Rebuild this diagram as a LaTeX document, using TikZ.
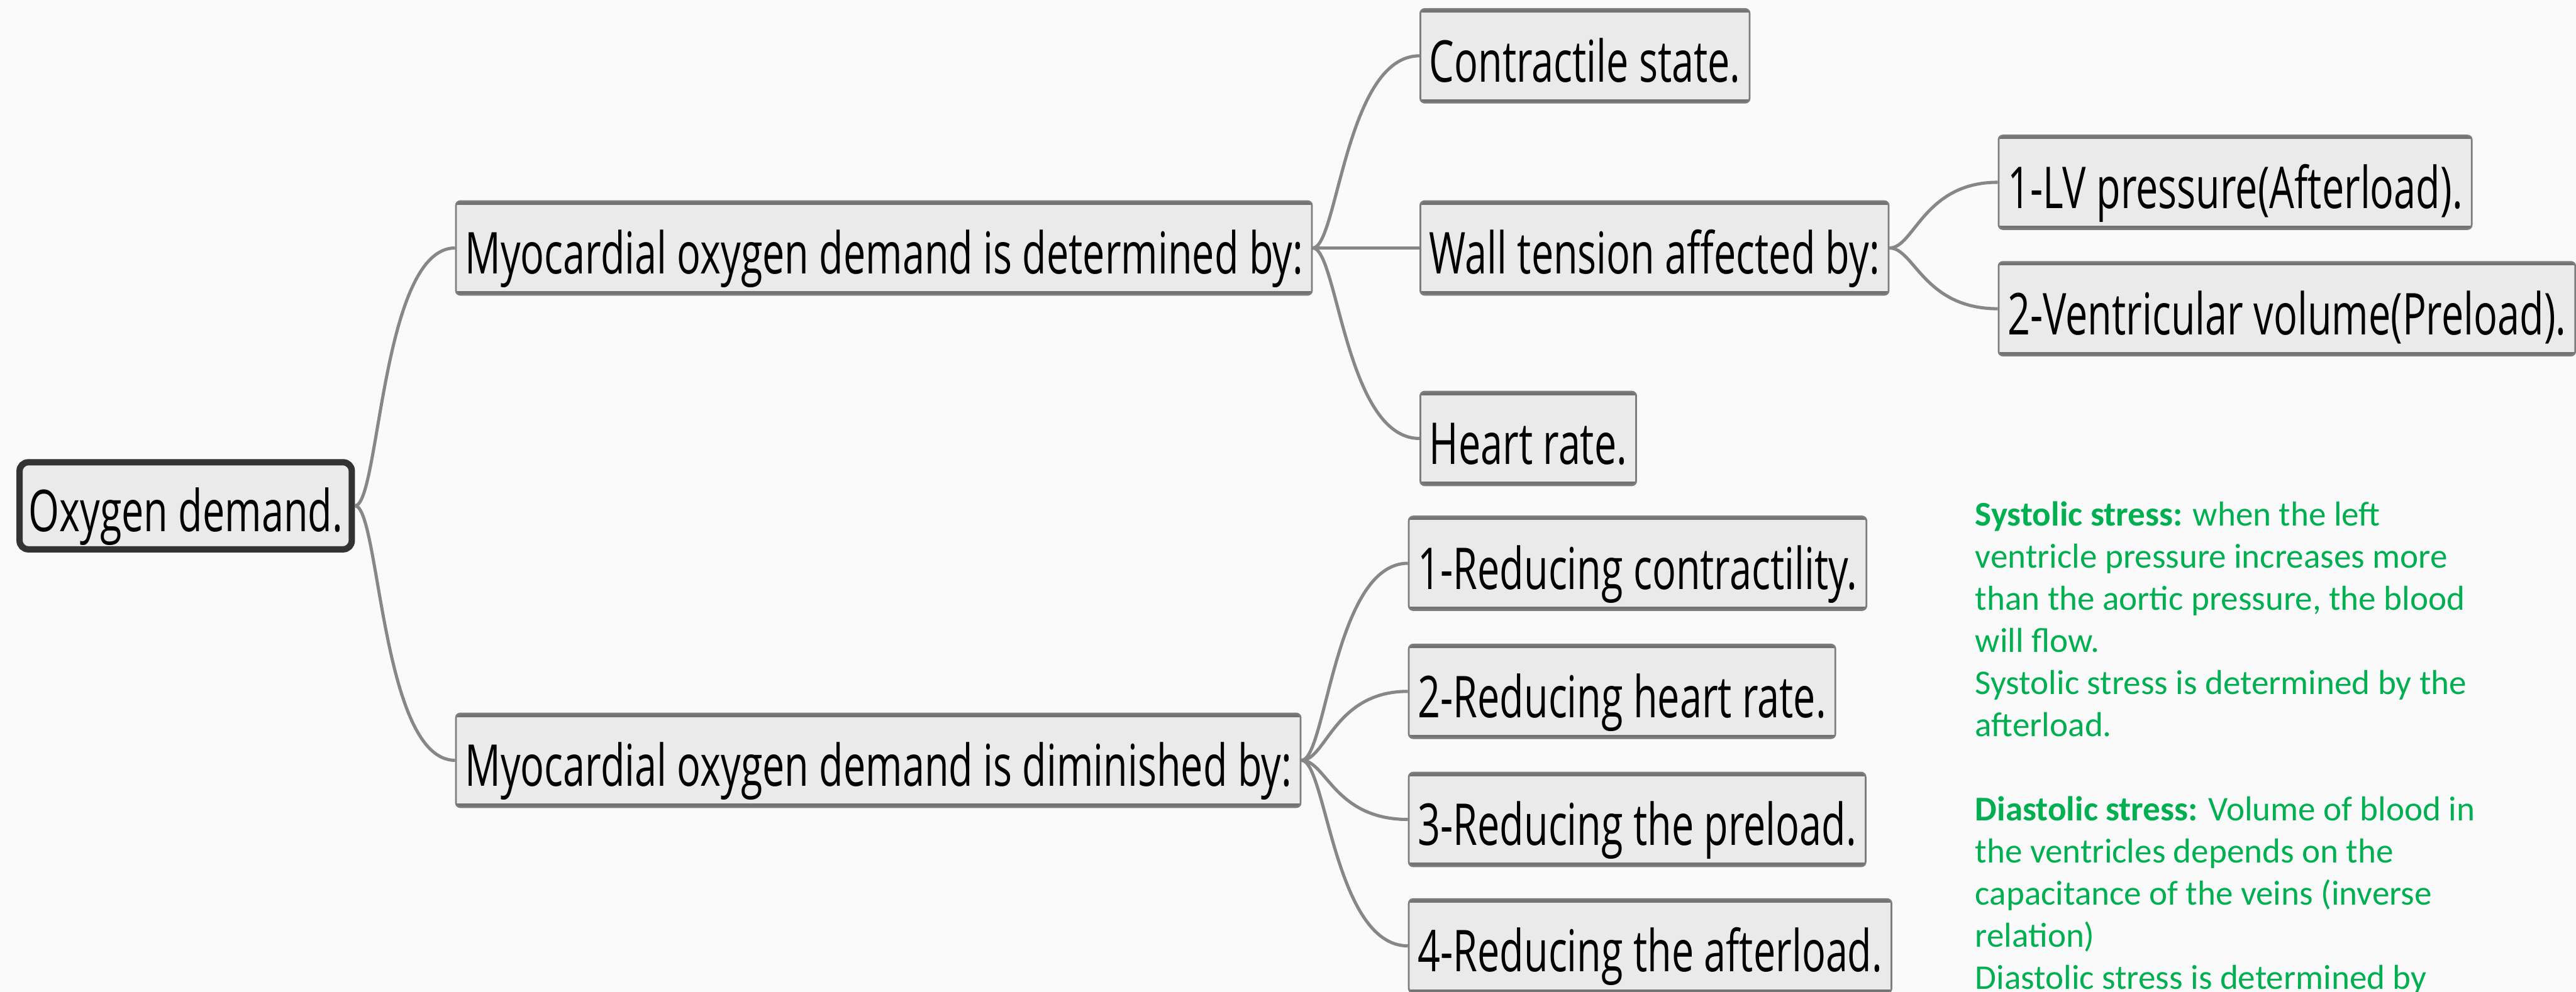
\documentclass[tikz,border=0pt]{standalone}
\usepackage{fontspec}
\setmainfont{Carlito}
\newfontfamily\boxfont[FakeStretch=0.685]{Open Sans}
\usepackage{tikz}
\usetikzlibrary{positioning}
\definecolor{PageGray}{RGB}{250,250,250}
\definecolor{BoxFill}{RGB}{234,234,234}
\definecolor{BoxLine}{RGB}{125,125,125}
\definecolor{LinkGray}{RGB}{135,135,135}
\definecolor{NoteGreen}{RGB}{0,176,80}
\tikzset{
  topic/.style={draw=BoxLine, line width=0.6pt, fill=BoxFill, rounded corners=1.5pt,
    minimum height=11.4mm, inner xsep=1.1mm, inner ysep=0pt, anchor=west,
    text height=19pt, text depth=1pt, font=\boxfont\fontsize{20}{24}\selectfont,
    path picture={\draw[black!55, line width=2.4pt]
      (path picture bounding box.north west) -- (path picture bounding box.north east)
      (path picture bounding box.south west) -- (path picture bounding box.south east);}},
  roottopic/.style={topic, draw=black!80, line width=2.2pt, rounded corners=3pt,
    minimum height=10.6mm, path picture={}},
  link/.style={draw=LinkGray, line width=1.1pt},
  note/.style={anchor=north west, inner sep=0pt, align=left, text=NoteGreen,
    font=\fontsize{12}{14.6}\selectfont}
}
\begin{document}
\begin{tikzpicture}[x=0.2mm, y=-0.2mm]
  \useasboundingbox (0,0) rectangle (1568,604);
  \clip (0,0) rectangle (1568,604);
  \fill[PageGray] (0,0) rectangle (1568,604);

  % main topic
  \node[roottopic] (root) at (10,308) {Oxygen demand.};

  % first level
  \node[topic] (det) at (277,151) {Myocardial oxygen demand is determined by:};
  \node[topic] (dim) at (277,463) {Myocardial oxygen demand is diminished by:};

  % determined by
  \node[topic] (contr) at (864,34) {Contractile state.};
  \node[topic] (wall) at (864,151) {Wall tension affected by:};
  \node[topic] (hr) at (864,267) {Heart rate.};
  \node[topic] (lv) at (1216,111) {1-LV pressure(Afterload).};
  \node[topic] (vv) at (1216,188) {2-Ventricular volume(Preload).};

  % diminished by
  \node[topic] (redA) at (857,343) {1-Reducing contractility.};
  \node[topic] (redB) at (857,421) {2-Reducing heart rate.};
  \node[topic] (redC) at (857,499) {3-Reducing the preload.};
  \node[topic] (redD) at (857,576) {4-Reducing the afterload.};

  \foreach \a/\b in {root/det, root/dim, det/contr, det/wall, det/hr, wall/lv, wall/vv,
      dim/redA, dim/redB, dim/redC, dim/redD}
    \draw[link] (\a.east) .. controls +(15,0) and +(-45,0) .. (\b.west);

  % side note
  \node[note] (stress) at (1202,305) {\textbf{Systolic stress:} when the left\\
    ventricle pressure increases more\\
    than the aortic pressure, the blood\\
    will flow.\\
    Systolic stress is determined by the\\
    afterload.\\[14.6pt]
    \textbf{Diastolic stress:} Volume of blood in\\
    the ventricles depends on the\\
    capacitance of the veins (inverse\\
    relation)\\
    Diastolic stress is determined by};
\end{tikzpicture}
\end{document}
